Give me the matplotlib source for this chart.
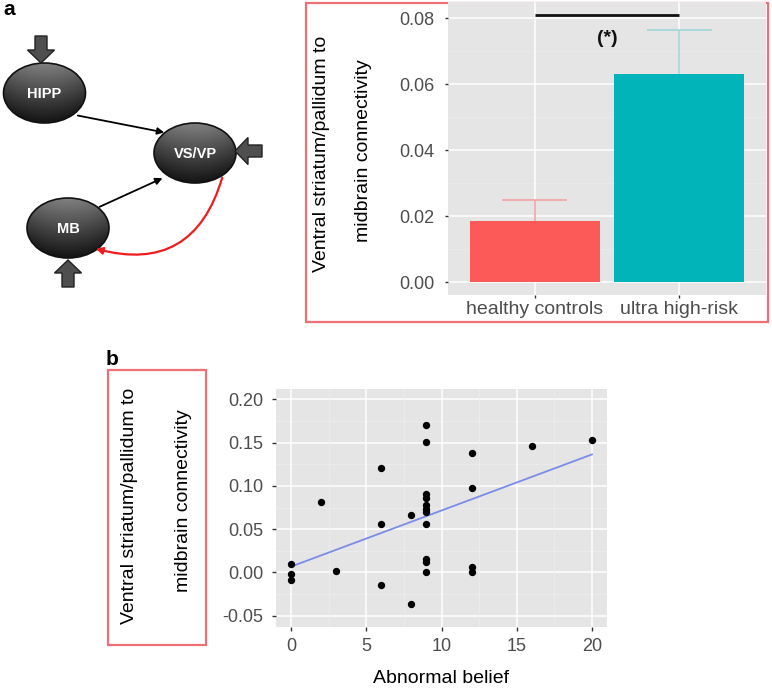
import numpy as np
import matplotlib
matplotlib.use("Agg")
import matplotlib.pyplot as plt
from matplotlib.patches import Ellipse, Rectangle, Polygon

plt.rcParams['font.family'] = ['Liberation Sans', 'DejaVu Sans']

# ---------------- data ----------------
categories = ["healthy controls", "ultra high-risk"]
bar_means = [0.0185, 0.063]
bar_err_upper = [0.0065, 0.0135]
bar_colors = ["#fc5a58", "#00b4ba"]
err_colors = ["#f3a5a3", "#9fd6d9"]
sig_y = 0.081
sig_label = "(*)"
bar_yticks = [0.00, 0.02, 0.04, 0.06, 0.08]

belief = [0, 0, 0, 2, 3, 6, 6, 6, 8, 8, 9, 9, 9, 9, 9, 9, 9, 9, 9, 9, 9,
          12, 12, 12, 12, 16, 20]
connectivity = [0.010, -0.002, -0.009, 0.081, 0.002, 0.121, 0.056, -0.015,
                0.066, -0.036, 0.170, 0.151, 0.091, 0.086, 0.078, 0.073,
                0.070, 0.056, 0.016, 0.012, 0.000, 0.138, 0.098, 0.006,
                0.000, 0.146, 0.153]
fit_intercept = 0.0068
fit_slope = 0.00648
sc_xticks = [0, 5, 10, 15, 20]
sc_yticks = [-0.05, 0.00, 0.05, 0.10, 0.15, 0.20]

ylabel_lines = ["Ventral striatum/pallidum to", "midbrain connectivity"]
xlabel_b = "Abnormal belief"

# ---------------- figure ----------------
W, H = 772, 690
fig = plt.figure(figsize=(W / 100, H / 100), dpi=100)
fig.patch.set_facecolor("white")


def px_axes(left, top, right, bottom, **kw):
    return fig.add_axes([left / W, 1 - bottom / H, (right - left) / W,
                         (bottom - top) / H], **kw)


PANEL_BG = "#e5e5e5"
TICK_COL = "#4d4d4d"


def gg_style(ax):
    ax.set_facecolor(PANEL_BG)
    for s in ax.spines.values():
        s.set_visible(False)
    ax.tick_params(axis="both", colors="#333333", labelcolor=TICK_COL,
                   length=3, width=1.0, labelsize=13)
    ax.set_axisbelow(True)


# ---------------- bar panel (a) ----------------
axb = px_axes(448, 2, 766, 295)
gg_style(axb)
xpos = np.arange(1, len(categories) + 1)
axb.set_xlim(0.4, 2.6)
axb.set_ylim(-0.0039, 0.0849)
for yv in bar_yticks:
    axb.axhline(yv, color="white", lw=1.1, zorder=0)
for yv in np.arange(0.01, 0.08, 0.02):
    axb.axhline(yv, color="#ececec", lw=0.5, zorder=0)
for xv in xpos:
    axb.axvline(xv, color="white", lw=1.1, zorder=0)
for i, (m, e) in enumerate(zip(bar_means, bar_err_upper)):
    axb.vlines(xpos[i], m, m + e, color=err_colors[i], lw=1.2, zorder=1)
    axb.hlines(m + e, xpos[i] - 0.225, xpos[i] + 0.225, color=err_colors[i],
               lw=1.2, zorder=1)
axb.bar(xpos, bar_means, width=0.9, color=bar_colors, zorder=2)
axb.hlines(sig_y, xpos[0], xpos[1], color="#111111", lw=2.0, zorder=3)
axb.text(1.5, sig_y - 0.0047, sig_label, ha="center", va="top",
         fontsize=14, fontweight="bold", color="#111111")
axb.set_xticks(xpos)
axb.set_xticklabels(categories, fontsize=14)
axb.set_yticks(bar_yticks)
axb.set_yticklabels([f"{v:.2f}" for v in bar_yticks])
axb.tick_params(axis="y", pad=7, length=2.5)
axb.tick_params(axis="x", pad=1.5, length=2.5)

# ---------------- scatter panel (b) ----------------
axs = px_axes(276, 389, 607, 627)
gg_style(axs)
axs.set_xlim(-1, 21)
axs.set_ylim(-0.063, 0.212)
for yv in sc_yticks:
    axs.axhline(yv, color="white", lw=1.1, zorder=0)
for yv in np.arange(-0.025, 0.21, 0.05):
    axs.axhline(yv, color="#efefef", lw=0.5, zorder=0)
for xv in sc_xticks:
    axs.axvline(xv, color="white", lw=1.1, zorder=0)
for xv in np.arange(2.5, 20, 5):
    axs.axvline(xv, color="#efefef", lw=0.5, zorder=0)
axs.scatter(belief, connectivity, s=28, color="black", zorder=3,
            linewidths=0)
xfit = np.array([min(belief), max(belief)])
axs.plot(xfit, fit_intercept + fit_slope * xfit, color="#7a8ce8", lw=1.3,
         zorder=2)
axs.set_xticks(sc_xticks)
axs.set_xticklabels([str(v) for v in sc_xticks], fontsize=13)
axs.set_yticks(sc_yticks)
axs.set_yticklabels([f"{v:.2f}" for v in sc_yticks], fontsize=13)
axs.tick_params(axis="y", pad=6, length=3)
axs.tick_params(axis="x", pad=5, length=3)

# ---------------- overlay: diagram, boxes, labels ----------------
ov = fig.add_axes([0, 0, 1, 1], zorder=-1)
ov.set_xlim(0, W)
ov.set_ylim(H, 0)
ov.axis("off")

# red boxes
ov.add_patch(Rectangle((306, 3), 462, 319, fill=False, ec="#ee6f74", lw=1.6))
ov.add_patch(Rectangle((108, 370), 98, 275, fill=False, ec="#ee6f74", lw=1.6))

# rotated y labels
ov.text(321, 154, ylabel_lines[0], rotation=90, ha="center", va="center",
        fontsize=14, color="black")
ov.text(363, 151, ylabel_lines[1], rotation=90, ha="center", va="center",
        fontsize=14, color="black")
ov.text(130, 506, ylabel_lines[0], rotation=90, ha="center", va="center",
        fontsize=14, color="black")
ov.text(183, 501, ylabel_lines[1], rotation=90, ha="center", va="center",
        fontsize=14, color="black")
ov.text(441, 683, xlabel_b, ha="center", va="baseline", fontsize=14,
        color="black")

# panel letters
ov.text(3, 15, "a", fontsize=15, fontweight="bold", va="baseline")
ov.text(106, 365, "b", fontsize=15, fontweight="bold", va="baseline")

# diagram nodes
nodes = {"HIPP": (44.5, 93), "VS/VP": (195, 153), "MB": (68, 228)}
node_w, node_h = 82, 60
gy, gx = np.mgrid[0:1:120j, -1:1:160j]
shade = 0.50 - 0.42 * gy - 0.08 * gx ** 2
img = np.clip(shade, 0, 1)
for name, (cx, cy) in nodes.items():
    e = Ellipse((cx, cy), node_w, node_h, fc="none", ec="#111111", lw=1.2,
                zorder=3)
    ov.add_patch(e)
    im = ov.imshow(img, cmap="gray", vmin=0, vmax=1, origin="upper",
                   extent=(cx - node_w / 2, cx + node_w / 2, cy + node_h / 2,
                           cy - node_h / 2), aspect="auto", zorder=2,
                   interpolation="bilinear")
    im.set_clip_path(e)
    ov.text(cx, cy + 1, name, ha="center", va="center", color="white",
            fontsize=10.5, fontweight="bold", zorder=4)


def block_arrow(tip, direction, head_len=13, head_w=27, shaft_len=14,
                shaft_w=12):
    tx, ty = tip
    dx, dy = direction
    px, py = -dy, dx
    pts = []
    for a, b in [(0, 0), (-head_len, head_w / 2), (-head_len, shaft_w / 2),
                 (-head_len - shaft_len, shaft_w / 2),
                 (-head_len - shaft_len, -shaft_w / 2),
                 (-head_len, -shaft_w / 2), (-head_len, -head_w / 2)]:
        pts.append((tx + a * dx + b * px, ty + a * dy + b * py))
    ov.add_patch(Polygon(pts, closed=True, fc="#4f4f4f", ec="#222222",
                         lw=1.0, zorder=3))


block_arrow((41, 63), (0, 1))
block_arrow((235, 151), (-1, 0))
block_arrow((68, 260), (0, -1))

# connections
ov.annotate("", xy=(167, 133), xytext=(75, 115),
            arrowprops=dict(arrowstyle="-|>", color="black", lw=1.3,
                            mutation_scale=10), zorder=5)
ov.annotate("", xy=(165, 177), xytext=(97, 208),
            arrowprops=dict(arrowstyle="-|>", color="black", lw=1.3,
                            mutation_scale=10), zorder=5)
ov.annotate("", xy=(93, 248), xytext=(223, 175),
            arrowprops=dict(arrowstyle="-|>", color="#ee1c1c", lw=1.6,
                            mutation_scale=10,
                            connectionstyle="arc3,rad=-0.5"), zorder=5)

fig.savefig("out.png", dpi=100)
